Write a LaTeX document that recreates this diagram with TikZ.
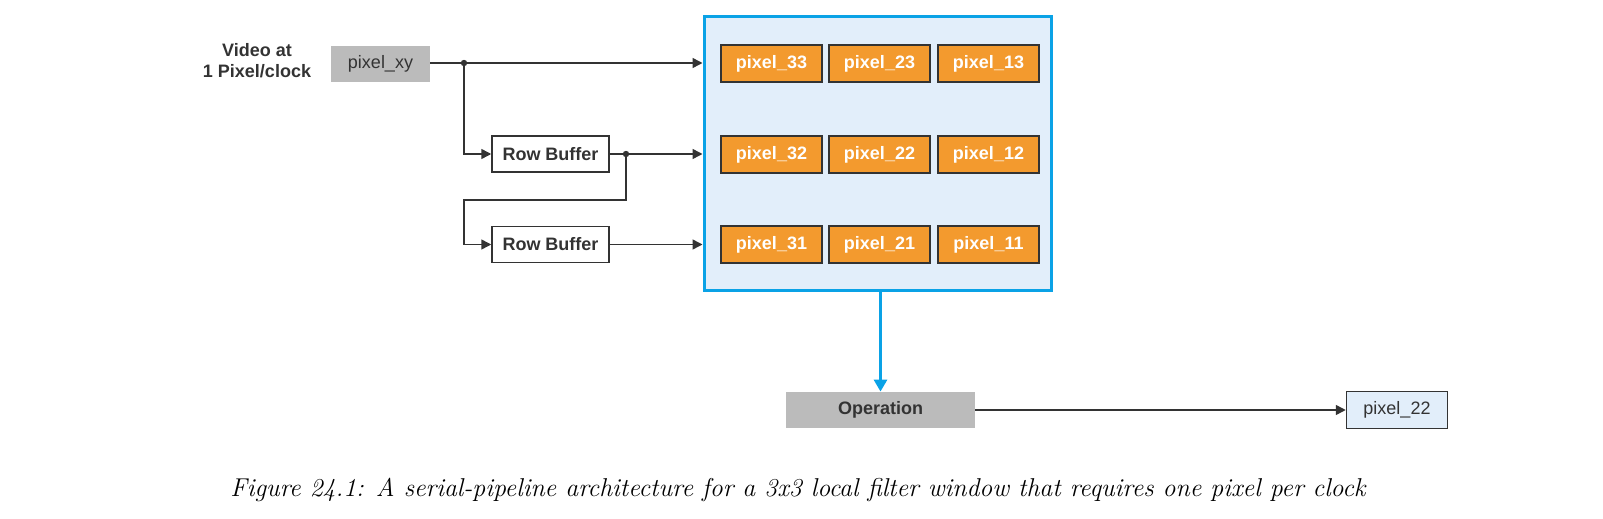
\documentclass[tikz,border=0pt]{standalone}
\usepackage{fontspec}
\newfontfamily\diagfont{Liberation Sans}
\usetikzlibrary{arrows.meta}

\definecolor{pixorange}{HTML}{F39A2E}
\definecolor{winblue}{HTML}{0AA2E6}
\definecolor{winfill}{HTML}{E2EEFA}
\definecolor{boxgray}{HTML}{BBBBBB}
\definecolor{linegray}{HTML}{333333}

\begin{document}
\begin{tikzpicture}[x=0.5pt, y=-0.5pt, >={Triangle[length=5pt,width=5pt]},
    every node/.style={font=\diagfont\fontsize{9}{10.5}\selectfont, inner sep=0pt, text=linegray},
    wire/.style={draw=linegray, line width=0.75pt},
    pixbox/.style={draw=linegray, line width=0.75pt, fill=pixorange, text=white,
        font=\diagfont\bfseries\fontsize{9}{10.5}\selectfont, minimum width=50.5pt, minimum height=18.5pt},
    rowbuf/.style={draw=linegray, line width=0.75pt, fill=white,
        font=\diagfont\bfseries\fontsize{9}{10.5}\selectfont, minimum width=58.5pt, minimum height=18pt},
    graybox/.style={fill=boxgray, minimum height=18pt}]

    \useasboundingbox (0,0) rectangle (1603,519);

    % Entree video
    \node[align=center, font=\diagfont\bfseries\fontsize{9}{10.5}\selectfont] (video) at (257,61) {Video at\\1 Pixel/clock};
    \node[graybox, minimum width=49.5pt] (xy) at (380.5,64) {pixel\_xy};

    % Tampons de ligne
    \node[rowbuf] (rb1) at (550.5,154) {Row Buffer};
    \node[rowbuf] (rb2) at (550.5,244.5) {Row Buffer};

    % Fenetre 3x3
    \node[draw=winblue, line width=1.5pt, fill=winfill, minimum width=173.5pt, minimum height=136.5pt] (win) at (877.5,153.5) {};
    \foreach \i/\x in {3/771.5, 2/879.5, 1/988.5}
        \foreach \j/\y in {3/63.5, 2/154.5, 1/244.5}
            \node[pixbox] (p\i\j) at (\x,\y) {pixel\_\i\j};

    % Operation et sortie
    \node[graybox, minimum width=94.5pt, font=\diagfont\bfseries\fontsize{9}{10.5}\selectfont] (op) at (880.5,410) {Operation};
    \node[draw=linegray, line width=0.75pt, fill=winfill, minimum width=50.5pt, minimum height=18.5pt] (out) at (1397,410) {pixel\_22};

    % Noeuds de branchement
    \coordinate (dot1) at (464,63);
    \coordinate (dot2) at (626,154);
    \coordinate (bendR) at (626,200);
    \coordinate (bendL) at (464,200);

    % Liaisons
    \draw[wire, ->] (xy.east |- dot1) -- (dot1 -| win.west);
    \draw[wire, ->] (dot1) |- (rb1.west);
    \draw[wire, ->] (rb1.east) -- (rb1.east -| win.west);
    \draw[wire, ->] (dot2) -- (bendR) -- (bendL) |- (rb2.west);
    \draw[wire, ->] (rb2.east) -- (rb2.east -| win.west);
    \fill[linegray] (dot1) circle (1.6pt);
    \fill[linegray] (dot2) circle (1.6pt);

    \draw[winblue, line width=1.5pt, -{Triangle[length=6pt,width=6.5pt]}] (op.north |- win.south) -- (op.north);
    \draw[wire, ->] (op.east) -- (out.west);

    % Legende
    \node[font=\normalfont\itshape\fontsize{12.9}{15.5}\selectfont, text=black] (caption) at (798,490)
        {Figure 24.1: A serial-pipeline architecture for a 3x3 local filter window that requires one pixel per clock};
\end{tikzpicture}
\end{document}
